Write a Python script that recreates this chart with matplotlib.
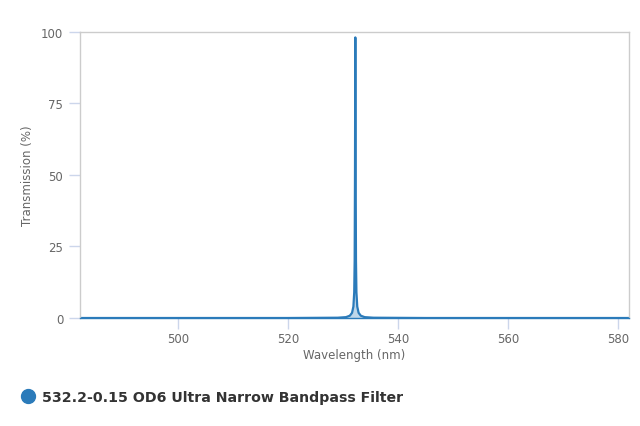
import matplotlib
matplotlib.use("Agg")
import matplotlib.pyplot as plt
from matplotlib.lines import Line2D

# transmission curve (nm, %)
wavelength = [482.0, 520.0, 529.0, 530.5, 531.2, 531.6, 531.85, 532.0, 532.08,
              532.14, 532.18, 532.2, 532.22, 532.26, 532.32, 532.4, 532.55,
              532.8, 533.2, 533.9, 535.5, 545.0, 582.0]
transmission = [0.0, 0.0, 0.1, 0.3, 0.8, 1.8, 4.0, 9.0, 20.0,
                50.0, 85.0, 98.0, 85.0, 50.0, 20.0, 9.0, 4.0,
                1.8, 0.8, 0.3, 0.1, 0.0, 0.0]

series_name = "532.2-0.15 OD6 Ultra Narrow Bandpass Filter"
x_ticks = [500, 520, 540, 560, 580]
y_ticks = [0, 25, 50, 75, 100]

line_color = "#2b7bba"
frame_color = "#cccccc"
tick_color = "#ccd6eb"
text_color = "#666666"

fig = plt.figure(figsize=(6.4, 4.27), dpi=100)
ax = fig.add_axes([80 / 640, (427 - 319) / 427, 549 / 640, 286.3 / 427])

ax.fill_between(wavelength, transmission, 0, color=line_color, alpha=0.3, lw=0)
ax.plot(wavelength, transmission, color=line_color, lw=1.6)

ax.set_xlim(482.1, 582.0)
ax.set_ylim(0, 100)
ax.set_xticks(x_ticks)
ax.set_yticks(y_ticks)

for side in ["top", "left", "right"]:
    ax.spines[side].set_color(frame_color)
    ax.spines[side].set_linewidth(1)
ax.spines["bottom"].set_color(line_color)
ax.spines["bottom"].set_linewidth(1)

ax.tick_params(axis="x", colors=tick_color, length=8, width=1,
               labelcolor=text_color, labelsize=8.5, pad=2)
ax.tick_params(axis="y", colors=tick_color, length=8, width=1,
               labelcolor=text_color, labelsize=8.5, pad=4)

ax.set_xlabel("Wavelength (nm)", color=text_color, fontsize=8.5, labelpad=2)
ax.set_ylabel("Transmission (%)", color=text_color, fontsize=8.5, labelpad=5)

handle = Line2D([], [], marker="o", ls="", markersize=10,
                markerfacecolor=line_color, markeredgecolor=line_color)
fig.legend([handle], [series_name], loc="lower left",
           bbox_to_anchor=(0.006, 0.021), frameon=False, handletextpad=0.2,
           handlelength=1.6, prop={"weight": "bold", "size": 10.2},
           labelcolor="#333333")

fig.savefig("out.png", dpi=100)
